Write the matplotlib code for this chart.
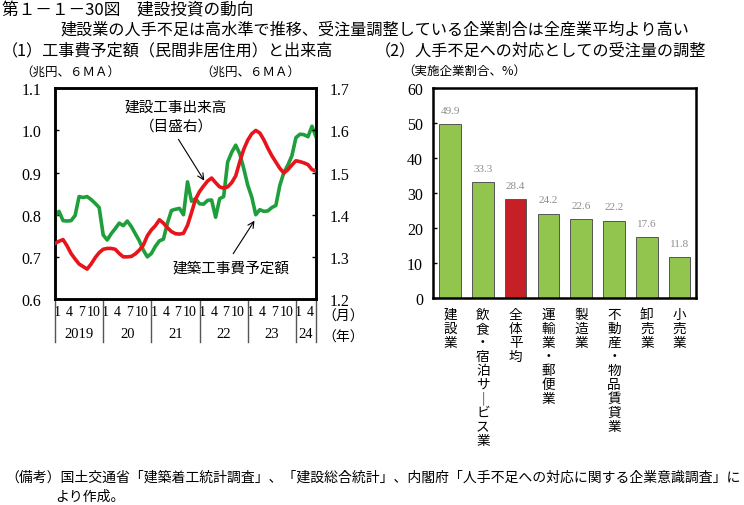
import matplotlib
matplotlib.use("Agg")
import matplotlib.pyplot as plt
import matplotlib.transforms as mtransforms
import numpy as np

plt.rcParams['font.family'] = ['Noto Sans CJK JP', 'DejaVu Sans']
SERIF = ['Liberation Serif', 'DejaVu Serif']

# ---------------- data ----------------
years = ["2019", "20", "21", "22", "23", "24"]
month_labels = ["1", "4", "7", "10"]
# 建築工事費予定額 (left axis, 兆円 6MA), Jan 2019 - Jun 2024
planned = [0.797, 0.808, 0.786, 0.785, 0.786, 0.798, 0.843, 0.841, 0.843, 0.836, 0.827, 0.817,
           0.752, 0.740, 0.755, 0.767, 0.780, 0.774, 0.785, 0.772, 0.755, 0.738, 0.716, 0.700,
           0.708, 0.725, 0.738, 0.742, 0.780, 0.810, 0.813, 0.815, 0.800, 0.878, 0.832, 0.838,
           0.826, 0.825, 0.834, 0.835, 0.794, 0.838, 0.843, 0.925, 0.948, 0.965, 0.945, 0.910,
           0.870, 0.842, 0.800, 0.812, 0.808, 0.809, 0.817, 0.822, 0.870, 0.900, 0.918, 0.940,
           0.983, 0.991, 0.990, 0.985, 1.010, 0.985]
# 建設工事出来高 (right axis, 兆円 6MA)
output = [1.332, 1.337, 1.341, 1.326, 1.308, 1.295, 1.283, 1.277, 1.271, 1.283, 1.298, 1.310,
          1.318, 1.320, 1.320, 1.318, 1.308, 1.300, 1.300, 1.301, 1.307, 1.316, 1.328, 1.350,
          1.364, 1.374, 1.388, 1.380, 1.369, 1.360, 1.355, 1.354, 1.356, 1.375, 1.405, 1.437,
          1.455, 1.468, 1.480, 1.487, 1.476, 1.466, 1.463, 1.466, 1.476, 1.492, 1.525, 1.555,
          1.577, 1.592, 1.600, 1.594, 1.578, 1.558, 1.540, 1.525, 1.510, 1.499, 1.507, 1.518,
          1.528, 1.526, 1.523, 1.519, 1.507, 1.504]

categories = ["建設業", "飲食・宿泊サービス業", "全体平均", "運輸業・郵便業", "製造業",
              "不動産・物品賃貸業", "卸売業", "小売業"]
shares = [49.9, 33.3, 28.4, 24.2, 22.6, 22.2, 17.6, 11.8]
highlight = "全体平均"

GREEN_LINE = "#1f9e3c"
RED_LINE = "#e8141c"
BAR_GREEN = "#92c54e"
BAR_RED = "#c71f26"

W, H = 744, 506
fig = plt.figure(figsize=(W / 100, H / 100), dpi=100)


def fx(x):
    return x / W


def fy(y):
    return 1 - y / H


PIX = lambda r: mtransforms.Affine2D().scale(1, -1).translate(0, H)

# ---------------- titles ----------------
fig.text(fx(2), fy(11), "第１－１－30図　建設投資の動向", fontsize=12, va="center", ha="left")
fig.text(fx(375), fy(30), "建設業の人手不足は高水準で推移、受注量調整している企業割合は全産業平均より高い",
         fontsize=11.6, va="center", ha="center")
fig.text(fx(2), fy(51), "（1）工事費予定額（民間非居住用）と出来高", fontsize=11.6, va="center", ha="left")
fig.text(fx(375), fy(51), "（2）人手不足への対応としての受注量の調整", fontsize=11.6, va="center", ha="left")
fig.text(fx(70), fy(72), "（兆円、６ＭＡ）", fontsize=9, va="center", ha="center")
fig.text(fx(250), fy(72), "（兆円、６ＭＡ）", fontsize=9, va="center", ha="center")
fig.text(fx(464), fy(71), "（実施企業割合、%）", fontsize=9, va="center", ha="center")

fig.text(fx(5), fy(478), "（備考）国土交通省「建築着工統計調査」、「建設総合統計」、内閣府「人手不足への対応に関する企業意識調査」に",
         fontsize=10, va="center", ha="left")
fig.text(fx(55), fy(497), "より作成。", fontsize=10, va="center", ha="left")

# ---------------- left chart ----------------
axL = fig.add_axes([fx(55), fy(300), (316 - 55) / W, (300 - 89.3) / H])
n = len(planned)
x = np.arange(n)
axR = axL.twinx()
axL.plot(x, planned, color=GREEN_LINE, lw=2.6, solid_joinstyle="round", zorder=3)
axR.plot(x, output, color=RED_LINE, lw=2.6, solid_joinstyle="round", zorder=3)
axL.set_xlim(0, n - 1)
axL.set_ylim(0.6, 1.1)
axR.set_ylim(1.2, 1.7)
axL.set_yticks(np.round(np.arange(0.6, 1.11, 0.1), 1))
axR.set_yticks(np.round(np.arange(1.2, 1.71, 0.1), 1))
axL.set_yticklabels([f"{v:.1f}" for v in axL.get_yticks()], fontfamily=SERIF, fontsize=11.5)
axR.set_yticklabels([f"{v:.1f}" for v in axR.get_yticks()], fontfamily=SERIF, fontsize=11.5)
axL.tick_params(axis="y", direction="in", length=3, width=1, pad=10)
axR.tick_params(axis="y", direction="in", length=3, width=1, pad=10)
for a in (axL, axR):
    for s in a.spines.values():
        s.set_linewidth(1.8)

# month ticks
mt, ml = [], []
for yi in range(len(years)):
    for k, lab in enumerate(month_labels):
        m = yi * 12 + k * 3
        if m <= n - 1:
            mt.append(m + 0.6)
            ml.append(lab)
axL.set_xticks(mt)
axL.set_xticklabels(ml, fontfamily=SERIF, fontsize=10)
axL.tick_params(axis="x", length=0, pad=4)

trans = mtransforms.blended_transform_factory(axL.transData, axL.transAxes)
bounds = [12 * i for i in range(len(years))] + [n - 1]
for b in bounds:
    axL.plot([b, b], [0, -0.205], transform=trans, color="#555555", lw=1.0, clip_on=False)
for yi, lab in enumerate(years):
    lo = bounds[yi]
    hi = bounds[yi + 1]
    axL.text((lo + hi) / 2, -0.165, lab, transform=trans, fontfamily=SERIF, fontsize=10.5,
             ha="center", va="center")
fig.text(fx(343), fy(317), "（月）", fontsize=10, ha="center", va="center")
fig.text(fx(343), fy(338), "（年）", fontsize=10, ha="center", va="center")

# annotations
axL.annotate("", xy=(205.7, 184), xycoords=PIX, xytext=(177, 138), textcoords=PIX,
             arrowprops=dict(arrowstyle="->", color="black", lw=0.8, mutation_scale=11))
axL.annotate("", xy=(256, 219.3), xycoords=PIX, xytext=(231.7, 257), textcoords=PIX,
             arrowprops=dict(arrowstyle="->", color="black", lw=0.8, mutation_scale=11))
fig.text(fx(176), fy(108), "建設工事出来高", fontsize=10.5, ha="center", va="center")
fig.text(fx(176), fy(127), "（目盛右）", fontsize=10.5, ha="center", va="center")
fig.text(fx(231), fy(269), "建築工事費予定額", fontsize=10.5, ha="center", va="center")

# ---------------- right chart ----------------
axB = fig.add_axes([fx(432.7), fy(299.3), (696 - 432.7) / W, (299.3 - 89.3) / H])
xb = np.arange(len(categories))
colors = [BAR_RED if c == highlight else BAR_GREEN for c in categories]
bars = axB.bar(xb, shares, width=0.66, color=colors, edgecolor="#555555", linewidth=0.7, zorder=2)
axB.set_xlim(-0.53, len(categories) - 0.5)
axB.set_ylim(0, 60)
axB.set_yticks(range(0, 61, 10))
axB.set_yticklabels([str(v) for v in range(0, 61, 10)], fontfamily=SERIF, fontsize=11.5)
axB.tick_params(axis="y", direction="in", length=3, width=1, pad=7)
axB.set_xticks([])
for s in axB.spines.values():
    s.set_linewidth(1.8)
for xi, v in zip(xb, shares):
    axB.annotate(f"{v:.1f}", xy=(xi, v), xytext=(0, 9.8), textcoords="offset points",
                 ha="center", va="center", fontfamily=SERIF, fontsize=8, color="#8c8c8c")

# vertical category labels
transB = mtransforms.blended_transform_factory(axB.transData, axB.transAxes)
step = 14.0 / (299.3 - 89.3)
y0 = -(315 - 299.3) / (299.3 - 89.3)
for xi, cat in zip(xb, categories):
    for k, ch in enumerate(cat):
        if ch == "ー":
            ch = "｜"
        axB.text(xi, y0 - k * step, ch, transform=transB, fontsize=9.8,
                 ha="center", va="center")

fig.savefig("out.png", dpi=100)
